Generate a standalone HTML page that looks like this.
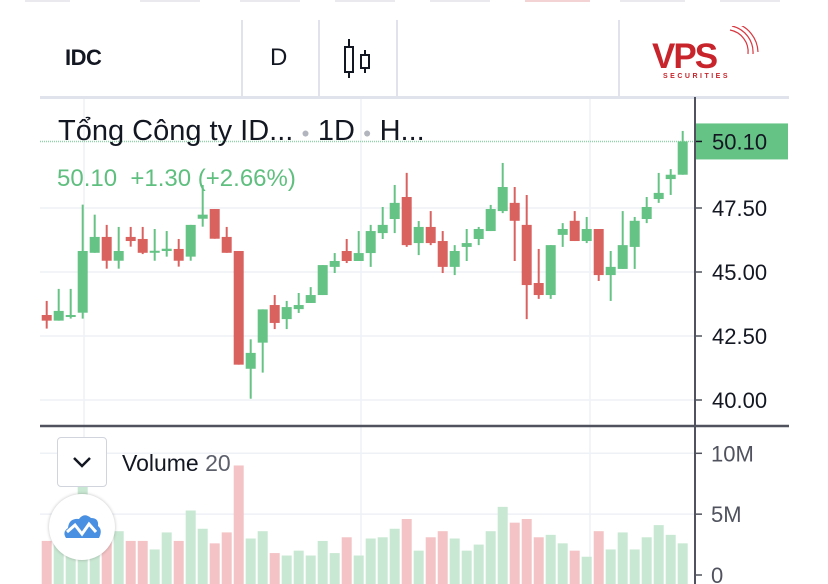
<!DOCTYPE html>
<html><head><meta charset="utf-8">
<style>
body{margin:0;width:828px;height:584px;overflow:hidden;background:#fff;font-family:"Liberation Sans","Noto Sans CJK SC",sans-serif;position:relative}
.abs{position:absolute}
</style></head><body>
<div class="abs" style="left:0;top:0;width:828px;height:97px">
 <div class="abs" style="left:25px;top:0;width:45px;height:2px;background:#e9e9ee"></div>
 <div class="abs" style="left:140px;top:0;width:60px;height:2px;background:#e9e9ee"></div>
 <div class="abs" style="left:240px;top:0;width:60px;height:2px;background:#e9e9ee"></div>
 <div class="abs" style="left:335px;top:0;width:60px;height:2px;background:#e9e9ee"></div>
 <div class="abs" style="left:430px;top:0;width:60px;height:2px;background:#e9e9ee"></div>
 <div class="abs" style="left:525px;top:0;width:65px;height:2px;background:#f3d3d3"></div>
 <div class="abs" style="left:620px;top:0;width:65px;height:2px;background:#e9e9ee"></div>
 <div class="abs" style="left:720px;top:0;width:60px;height:2px;background:#e9e9ee"></div>
 <div class="abs" style="left:65px;top:45px;font-size:22px;font-weight:bold;color:#131722;letter-spacing:-0.5px">IDC</div>
 <div class="abs" style="left:241px;top:20px;width:2px;height:77px;background:#e0e3eb"></div>
 <div class="abs" style="left:270px;top:44px;font-size:24px;color:#131722">D</div>
 <div class="abs" style="left:318px;top:20px;width:2px;height:77px;background:#e0e3eb"></div>
 <svg class="abs" style="left:340px;top:38px" width="34" height="42">
  <line x1="9" y1="1" x2="9" y2="40" stroke="#131722" stroke-width="2"/><rect x="5" y="9" width="8" height="25" fill="#fff" stroke="#131722" stroke-width="2"/>
  <line x1="25" y1="12" x2="25" y2="35" stroke="#131722" stroke-width="2"/><rect x="21" y="17" width="8" height="13" fill="#fff" stroke="#131722" stroke-width="2"/>
 </svg>
 <div class="abs" style="left:396px;top:20px;width:2px;height:77px;background:#e0e3eb"></div>
 <div class="abs" style="left:618px;top:20px;width:2px;height:77px;background:#e0e3eb"></div>
 <div class="abs" style="left:652px;top:36px;width:110px;height:50px">
  <div class="abs" style="left:0;top:1px;font-size:35px;font-weight:bold;color:#c8242b;letter-spacing:-2px">VPS</div>
  <svg class="abs" style="left:70px;top:-10px" width="40" height="40"><path d="M8 4 A22 22 0 0 1 26 28" stroke="#d9363e" fill="none" stroke-width="1.2"/><path d="M10 0 A27 27 0 0 1 31 28" stroke="#d9363e" fill="none" stroke-width="1.2"/><path d="M13 -3 A31 31 0 0 1 36 26" stroke="#d9363e" fill="none" stroke-width="1.2"/></svg>
  <div class="abs" style="left:11px;top:37px;font-size:7px;font-weight:bold;color:#c8242b;letter-spacing:2.5px">SECURITIES</div>
 </div>
 <div class="abs" style="left:40px;top:96px;width:749px;height:3px;background:#e0e3eb"></div>
</div>

<svg id="chart" class="abs" style="left:0;top:0" width="828" height="584"></svg>

<div class="abs" style="left:58px;top:115px;font-size:29px;color:#131722;white-space:nowrap">Tổng Công ty ID... <span style="color:#b2b5be;font-size:14px;vertical-align:middle">●</span> 1D <span style="color:#b2b5be;font-size:14px;vertical-align:middle">●</span> H...</div>
<div class="abs" style="left:57px;top:165px;font-size:24px;color:#5fbf7f;white-space:nowrap">50.10&nbsp; +1.30 (+2.66%)</div>

<div class="abs" style="left:57px;top:437px;width:48px;height:48px;border:1.5px solid #d1d4dc;border-radius:4px;background:#fff">
 <svg width="48" height="48"><path d="M16 20 L24 28 L32 20" stroke="#131722" stroke-width="2.5" fill="none"/></svg>
</div>
<div class="abs" style="left:122px;top:450px;font-size:23px;color:#131722">Volume <span style="color:#5d606b">20</span></div>
<div class="abs" style="left:49px;top:494px;width:66px;height:66px;border-radius:50%;background:#fff;box-shadow:0 0 3px rgba(0,0,0,0.25)">
 <svg width="66" height="66"><path d="M17 44 Q13 38 19 34 Q20 24 30 25 Q35 18 42 24 Q50 24 49 32 Q54 36 50 44 Z" fill="#4a90e2"/><path d="M18 38 L26 31 L33 40 L40 30 L47 38" stroke="#fff" stroke-width="3" fill="none"/></svg>
</div>

<script>
const opens=[43.32,43.10,43.25,43.41,45.75,46.37,45.44,46.37,46.29,45.75,45.82,45.90,45.60,47.08,47.46,46.37,45.82,41.22,42.24,43.71,43.16,43.55,43.79,44.10,45.20,45.82,45.43,45.74,46.52,47.07,47.93,46.13,46.76,46.21,45.20,45.98,46.29,46.60,47.38,47.70,46.84,44.57,44.10,46.45,47.00,46.21,46.68,44.88,45.12,45.98,47.07,47.85,48.63,48.80];
const highs=[43.87,44.34,44.34,47.63,47.24,46.84,46.76,46.76,46.76,46.68,46.60,46.29,46.84,48.40,47.46,46.76,45.82,42.37,43.54,44.10,43.87,44.18,44.41,45.27,45.74,46.29,46.60,46.84,47.54,48.40,48.87,46.99,47.38,46.60,46.05,46.68,46.76,47.62,49.26,48.32,48.01,45.90,46.05,46.91,47.38,47.15,46.68,45.82,47.38,47.15,47.93,48.87,49.02,50.51];
const lows=[42.79,43.10,43.18,43.18,45.75,45.13,45.13,45.99,45.70,45.44,45.60,45.21,45.44,46.77,46.30,45.75,41.38,40.05,41.07,42.77,42.77,43.40,43.79,44.10,44.96,45.35,45.43,45.20,46.29,46.52,45.98,45.66,46.05,44.96,44.88,45.43,46.05,46.60,47.30,45.43,43.16,43.95,43.95,45.98,46.21,46.13,44.65,43.87,45.12,45.12,46.91,47.70,48.01,48.80];
const closes=[43.10,43.48,43.32,45.82,46.37,45.44,45.82,46.21,45.75,45.83,45.91,45.44,46.84,47.24,46.30,45.75,41.38,41.84,43.54,43.01,43.63,43.71,44.10,45.27,45.43,45.43,45.74,46.60,46.84,47.70,46.05,46.76,46.13,45.20,45.82,46.13,46.68,47.46,48.32,47.00,44.49,44.10,46.05,46.68,46.21,46.68,44.88,45.20,46.05,47.00,47.54,48.09,48.80,50.10];
const volumes=[2.8,2.6,2.5,7.3,3.5,3.0,3.6,2.8,2.8,2.1,3.5,2.8,5.3,3.8,2.6,3.5,9.0,3.0,3.6,1.8,1.6,2.0,1.6,2.8,1.8,3.1,1.6,3.0,3.1,3.8,4.6,2.0,3.1,3.6,3.0,2.0,2.5,3.6,5.6,4.3,4.6,3.1,3.3,2.6,2.0,1.5,3.6,2.1,3.5,2.1,3.1,4.1,3.3,2.6];
const priceTicks=["47.50","45.00","42.50","40.00"];
const volTicks=["10M","5M","0"];
const lastPrice=50.10;

const NS="http://www.w3.org/2000/svg";
const svg=document.getElementById('chart');
const py=p=>400-(p-40)*25.6;
const vy=v=>575-v*12.17;
const xAt=i=>46.7+12*i;
function mk(tag,attrs,parent){const e=document.createElementNS(NS,tag);for(const k in attrs)e.setAttribute(k,attrs[k]);(parent||svg).appendChild(e);return e;}
const GREEN="#66c386",RED="#d9625f";

[84,361,590].forEach(x=>{const l=mk('line',{x1:x,y1:99,x2:x,y2:584,stroke:'#eef1f6','stroke-width':1.5});

});
priceTicks.forEach(t=>{const y=py(parseFloat(t));
const g=mk('line',{x1:40,y1:y,x2:695,y2:y,stroke:'#eef1f6','stroke-width':1.5});


mk('line',{x1:695,y1:y,x2:702,y2:y,stroke:'#50535e','stroke-width':1.5});
const tx=mk('text',{x:712,y:y+8,'font-size':22,fill:'#131722','font-family':'Liberation Sans, sans-serif'});tx.textContent=t;

});
volTicks.forEach(t=>{const v=t==="0"?0:parseFloat(t);const y=vy(v);
if(v>0){const g=mk('line',{x1:40,y1:y,x2:695,y2:y,stroke:'#eef1f6','stroke-width':1.5});

}
mk('line',{x1:695,y1:y,x2:702,y2:y,stroke:'#50535e','stroke-width':1.5});
const tx=mk('text',{x:711,y:y+8,'font-size':22,fill:'#50535e','font-family':'Liberation Sans, sans-serif'});tx.textContent=t;

});

volumes.forEach((v,i)=>{const up=closes[i]>=opens[i];
const r=mk('rect',{x:xAt(i)-5,y:vy(v),width:10,height:575-vy(v)+10,fill:up?'#c9e8d3':'#f3c3c5'});

});

const ly=py(lastPrice);
const dl=mk('line',{x1:40,y1:ly,x2:695,y2:ly,stroke:'#8fd3a8','stroke-width':1.5,'stroke-dasharray':'1 1'});



opens.forEach((o,i)=>{const c=closes[i];const up=c>=o;const col=up?GREEN:RED;const x=xAt(i);
const g=mk('g',{});


mk('line',{x1:x,y1:py(highs[i]),x2:x,y2:py(lows[i]),stroke:col,'stroke-width':2},g);
const top=py(Math.max(o,c)),bot=py(Math.min(o,c));
mk('rect',{x:x-5,y:top,width:10,height:Math.max(2,bot-top),fill:col},g);});

const ax=mk('line',{x1:695,y1:97,x2:695,y2:584,stroke:'#50535e','stroke-width':2});


const sep=mk('line',{x1:40,y1:426,x2:789,y2:426,stroke:'#50535e','stroke-width':2.5});



const lb=mk('rect',{x:696,y:ly-18,width:92,height:36,fill:'#66c386'});


mk('line',{x1:696,y1:ly,x2:702,y2:ly,stroke:'#131722','stroke-width':1.5});
const lt=mk('text',{x:712,y:ly+8,'font-size':22,fill:'#131722','font-family':'Liberation Sans, sans-serif'});lt.textContent=lastPrice.toFixed(2);


</script>
</body></html>
